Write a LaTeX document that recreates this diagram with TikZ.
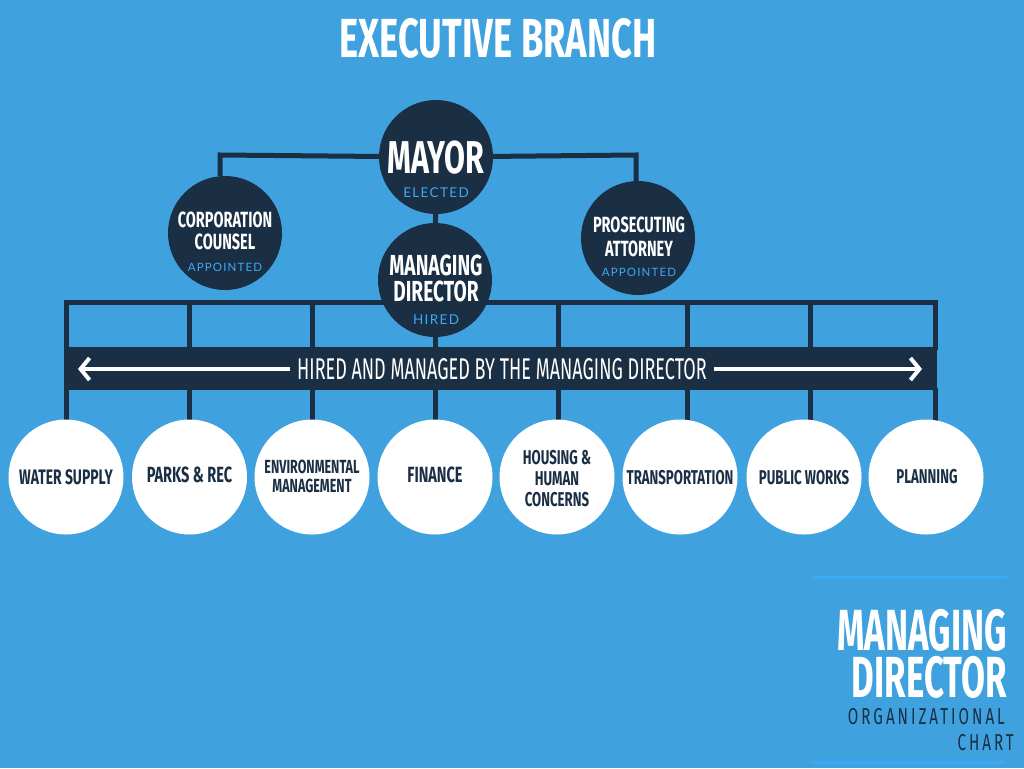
\documentclass[tikz,border=0pt]{standalone}
\usepackage{fontspec}
\usetikzlibrary{arrows.meta}
\newfontfamily\bebas[FakeStretch=0.66]{Fira Sans}
\newfontfamily\bebasn[FakeStretch=0.6]{Fira Sans}
\newfontfamily\bebasc[FakeStretch=0.6]{Fira Sans}
\newfontfamily\latof[LetterSpace=10]{Lato}
\newfontfamily\bebasspaced[FakeStretch=0.66,LetterSpace=13]{Fira Sans}
\definecolor{bgblue}{HTML}{3FA2DE}
\definecolor{navy}{HTML}{1A2E44}
\definecolor{accent}{HTML}{3BAAF5}
\pgfdeclarelayer{back}
\pgfsetlayers{back,main}
\tikzset{
  navycirc/.style={circle, fill=navy, minimum size=114pt, inner sep=0pt},
  whitecirc/.style={circle, fill=white, minimum size=115pt, inner sep=0pt},
  link/.style={draw=navy, line width=5pt},
  big/.style={anchor=base, text=white, inner sep=0pt, align=center, font=\bebas\bfseries\fontsize{#1}{#1}\selectfont},
  small/.style={anchor=base, text=accent, inner sep=0pt, text depth=0pt, font=\latof\fontsize{#1}{#1}\selectfont},
  dept/.style={anchor=base, text=navy, inner sep=0pt, text depth=0pt, align=center, font=\bebas\bfseries\fontsize{#1}{#1}\selectfont},
}
\begin{document}
\begin{tikzpicture}[x=1pt,y=-1pt]
\begin{pgfonlayer}{back}
\fill[bgblue] (0,0) rectangle (1024,768);
\end{pgfonlayer}
\useasboundingbox (0,0) rectangle (1024,768);

% title
\node[big=55] (title) at (498,58) {EXECUTIVE BRANCH};

% top circles
\node[navycirc] (mayor) at (436,157) {};
\node[navycirc] (md) at (435,280) {};
\node[navycirc] (cc) at (225,233) {};
\node[navycirc] (pa) at (638,238) {};

\node[big=46] (mayorT) at (436,173) {MAYOR};
\node[small=13.5] (mayorS) at (436,197) {ELECTED};
\node[big=29, font=\bebas\bfseries\fontsize{29}{26}\selectfont] (mdT) at (436,301) {MANAGING\\DIRECTOR};
\node[small=13.5] (mdS) at (436,324) {HIRED};
\node[big=22, font=\bebas\bfseries\fontsize{22}{22}\selectfont] (ccT) at (225,249) {CORPORATION\\COUNSEL};
\node[small=11.5] (ccS) at (225,271) {APPOINTED};
\node[big=22, font=\bebas\bfseries\fontsize{22}{24}\selectfont] (paT) at (639,256) {PROSECUTING\\ATTORNEY};
\node[small=11.5] (paS) at (639,276) {APPOINTED};

% department circles
\node[whitecirc] (d1) at (66,477) {};
\node[whitecirc] (d2) at (189.5,477) {};
\node[whitecirc] (d3) at (312,477) {};
\node[whitecirc] (d4) at (435,477) {};
\node[whitecirc] (d5) at (557,477) {};
\node[whitecirc] (d6) at (680,477) {};
\node[whitecirc] (d7) at (804,477) {};
\node[whitecirc] (d8) at (926,477) {};

\node[dept=21] (t1) at (66,484) {WATER SUPPLY};
\node[dept=22] (t2) at (189.5,482) {PARKS \& REC};
\node[dept=19] (t3a) at (312,473) {ENVIRONMENTAL};
\node[dept=19] (t3b) at (312,492) {MANAGEMENT};
\node[dept=22] (t4) at (435,482) {FINANCE};
\node[dept=20] (t5a) at (557,464) {HOUSING \&};
\node[dept=20] (t5b) at (557,485) {HUMAN};
\node[dept=20] (t5c) at (557,506) {CONCERNS};
\node[dept=20] (t6) at (680,484) {TRANSPORTATION};
\node[dept=20] (t7) at (804,484) {PUBLIC WORKS};
\node[dept=20] (t8) at (927,483) {PLANNING};

% band
\node[fill=navy, minimum width=873pt, minimum height=43pt, inner sep=0pt] (band) at (500.5,368.5) {};
\coordinate (al) at (78,369);
\coordinate (ar) at (922,369);
\draw[white, line width=4pt, {Straight Barb[length=9pt,width=22pt,line width=4pt]}-{Straight Barb[length=9pt,width=22pt,line width=4pt]}] (al) -- (ar);
\node[anchor=base, fill=navy, inner xsep=7pt, inner ysep=3pt, text=white, font=\bebasn\fontsize{30}{30}\selectfont] (bandT) at (502,379) {HIRED AND MANAGED BY THE MANAGING DIRECTOR};

% connectors
\begin{pgfonlayer}{back}
\coordinate (ccj) at (220,155);
\coordinate (paj) at (636,155);
\draw[link] (mayor.center) -- (ccj) -- (ccj |- cc.north);
\draw[link] (mayor.center) -- (paj) -- (paj |- pa.north);
\draw[link] (mayor) -- (md);
\coordinate (fl) at (64,302.5);
\coordinate (fr) at (937.5,302.5);
\draw[link] (fl) -- (fr);
\foreach \x/\d in {66/d1,189/d2,312/d3,435/d4,558/d5,687/d6,810/d7,935/d8}{
  \draw[link] (\x,300) -- (\x,350);
  \draw[link] (\x,388) -- (\x,0 |- \d.north) -- ++(0,3);
}
\end{pgfonlayer}

% bottom-right title
\coordinate (l1a) at (810,577);
\coordinate (l1b) at (1007,577);
\coordinate (l2a) at (810,762);
\coordinate (l2b) at (1005,762);
\draw[accent, line width=3pt] (l1a) -- (l1b);
\draw[accent, line width=3pt] (l2a) -- (l2b);
\node[anchor=base east, inner sep=0pt, text=white, align=right, font=\bebasc\bfseries\fontsize{58}{47}\selectfont] (brT) at (1007,697) {MANAGING\\DIRECTOR};
\node[anchor=base east, inner sep=0pt, text=navy, align=right, font=\bebasspaced\fontsize{23}{26}\selectfont] (brS) at (1014,750) {ORGANIZATIONAL\hspace*{9pt}\\CHART};
\end{tikzpicture}
\end{document}
